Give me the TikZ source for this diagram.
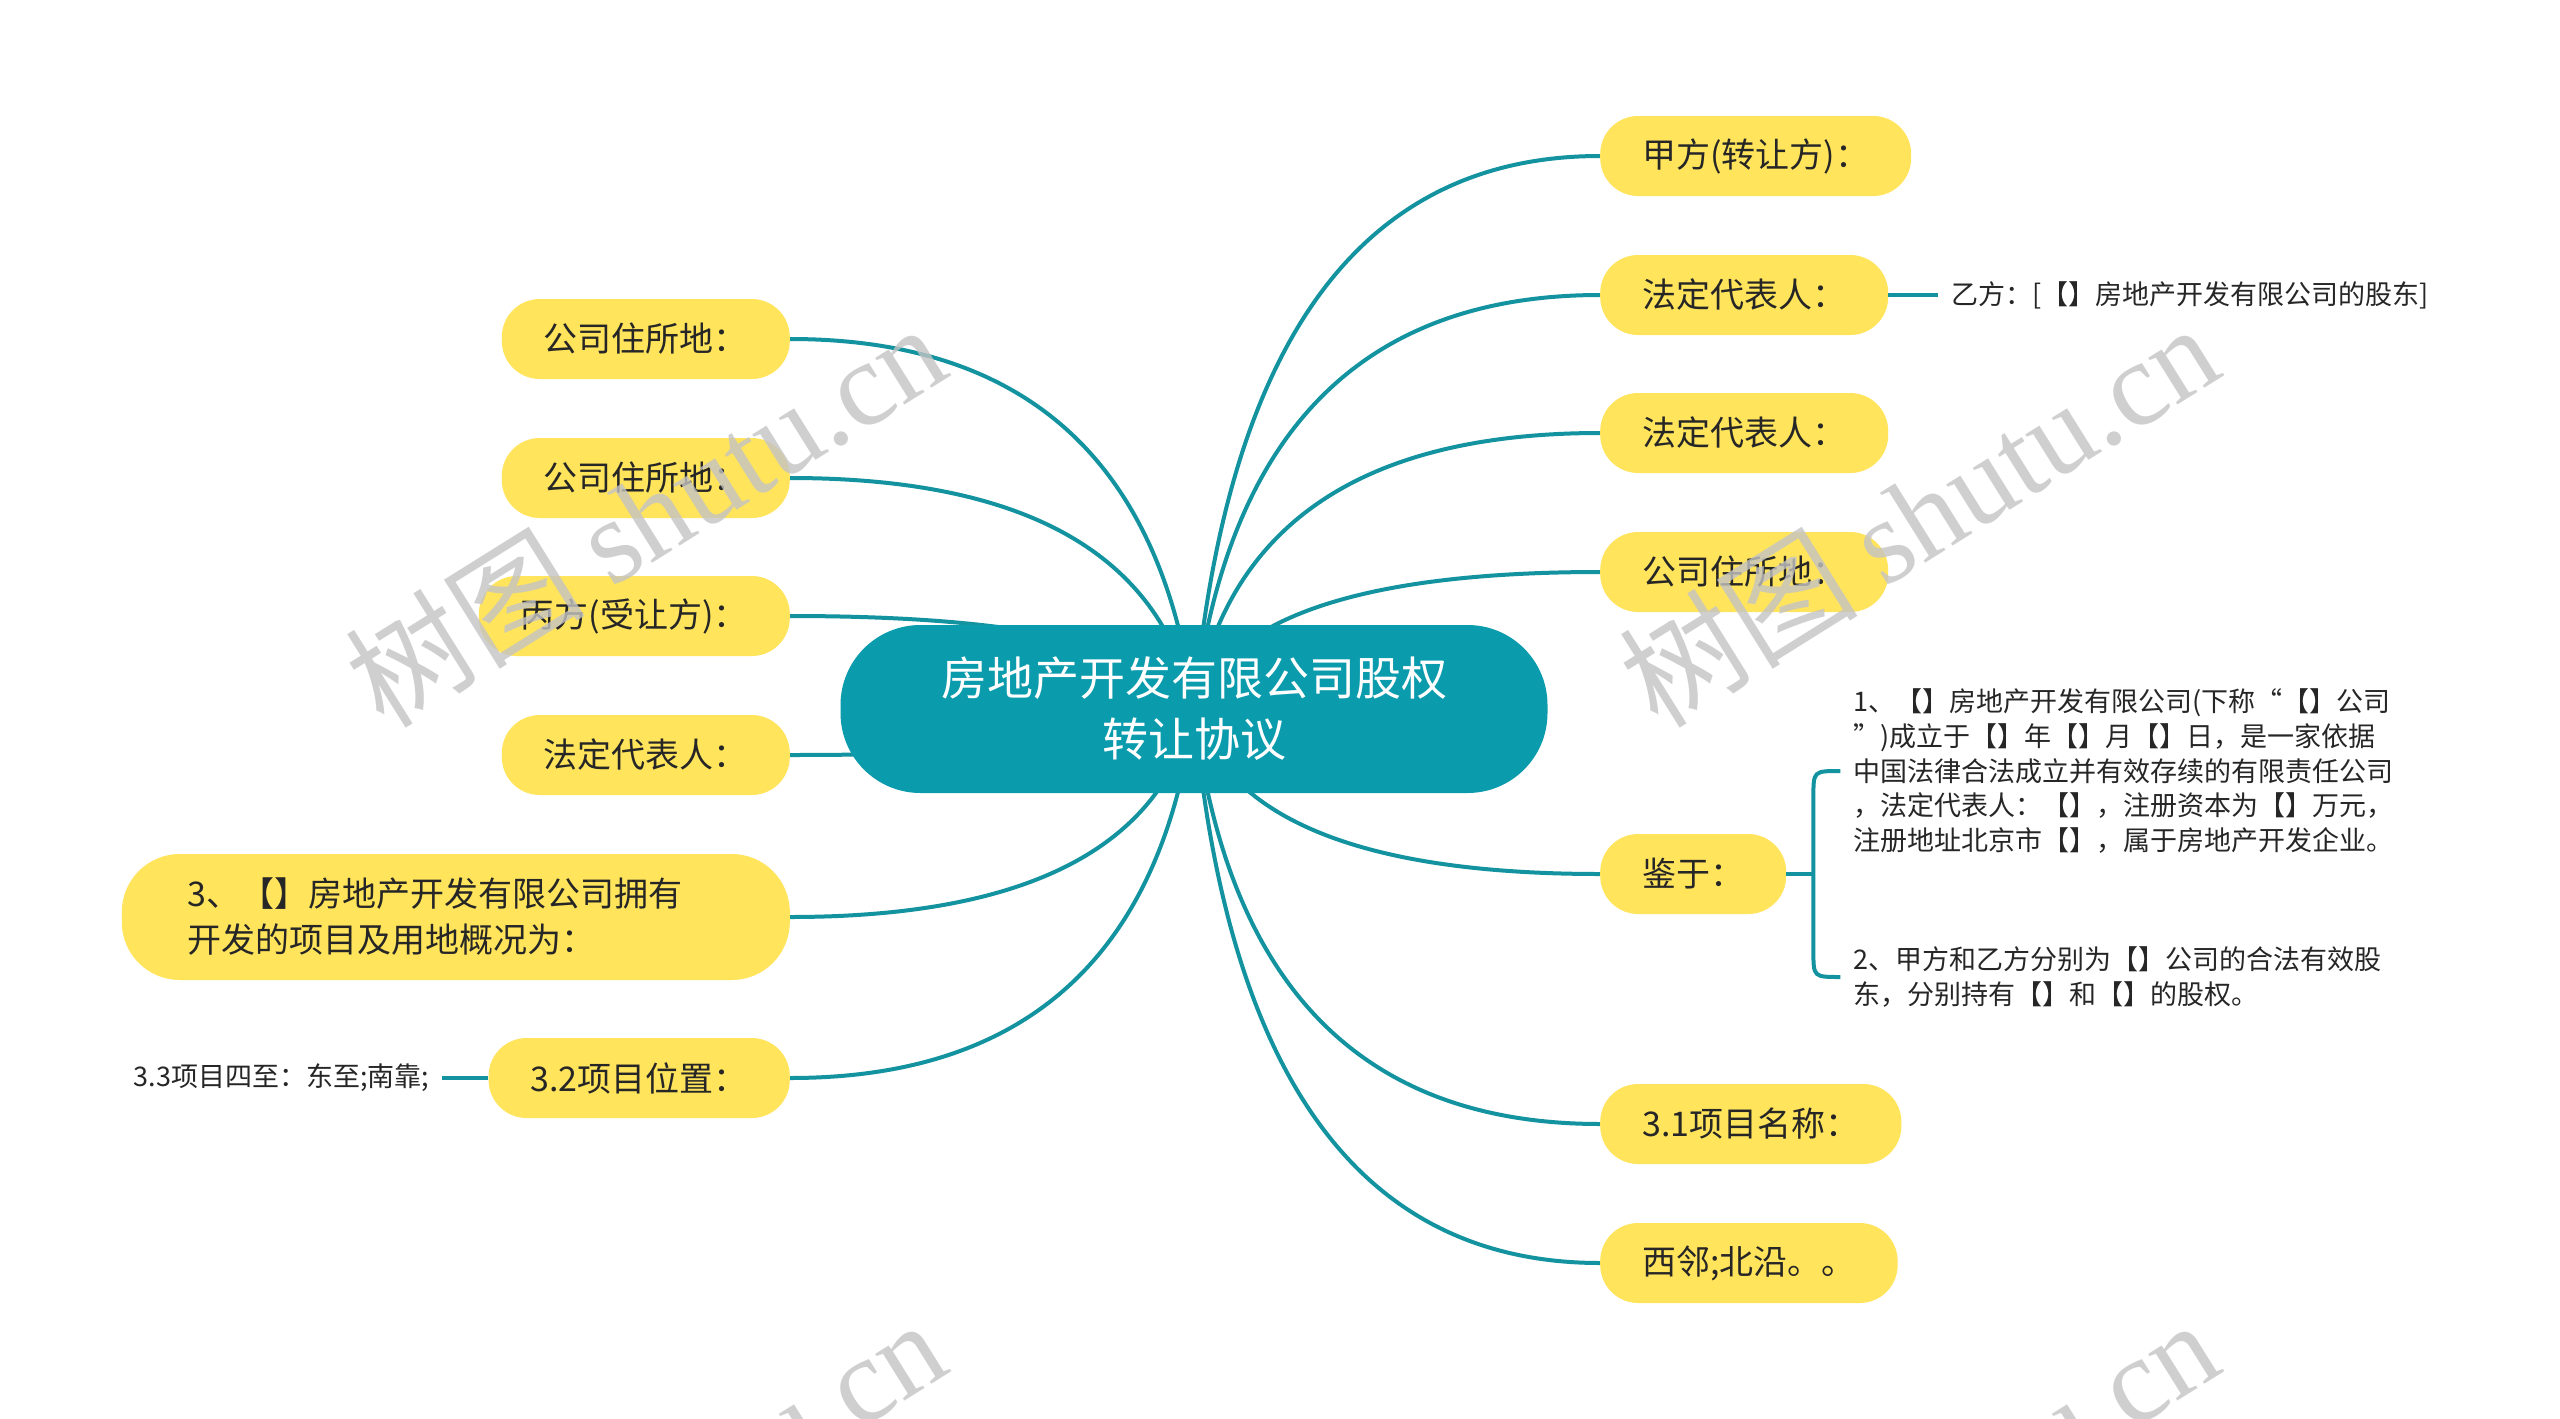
\documentclass[tikz,border=0pt]{standalone}
\usepackage{fontspec}
\setmainfont{Noto Sans CJK SC}
\newfontfamily\wmlatin{Liberation Serif}
\usetikzlibrary{positioning,calc,backgrounds}
\definecolor{hubFill}{HTML}{0A9BAC}
\definecolor{linkLine}{HTML}{13939F}
\definecolor{topicFill}{HTML}{FFE45C}
\definecolor{topicText}{HTML}{262626}
\definecolor{markGray}{HTML}{C4C4C4}

% curved link from the hub to one topic anchor
\newcommand{\branch}[1]{%
  \draw[link] let \p1=(hub.center), \p2=(#1) in
    (\p1) .. controls ({\x1+0.08*(\x2-\x1)},{\y1+0.667*(\y2-\y1)})
      and ({\x2-0.587*(\x2-\x1)},\y2) .. (\p2);}

\begin{document}
\begin{tikzpicture}[
  x=1pt, y=-1pt,
  font=\fontsize{34}{40}\selectfont,
  hub/.style={fill=hubFill, text=white, rounded corners=80pt, minimum width=707pt,
    minimum height=168pt, align=center, font=\fontsize{46}{61}\selectfont},
  topic/.style={fill=topicFill, text=topicText, rounded corners=38pt,
    minimum height=80pt, inner xsep=42pt, inner ysep=0pt},
  note/.style={text=topicText, font=\fontsize{27}{34.6}\selectfont, inner xsep=13pt, align=left},
  link/.style={draw=linkLine, line width=4pt},
  wmark/.style={text=markGray, text opacity=0.8, rotate=32, font=\fontsize{120}{120}\selectfont},
]

\useasboundingbox (0,0) rectangle (2560,1419);

% Central topic
\node[hub] (hub) at (1194,709) {房地产开发有限公司股权\\转让协议};

% Right branches
\node[topic, anchor=west] (jia) at (1600,156) {甲方(转让方)：};
\node[topic, anchor=west] (fd1) at (1600,295) {法定代表人：};
\node[topic, anchor=west] (fd2) at (1600,433) {法定代表人：};
\node[topic, anchor=west] (zs3) at (1600,572) {公司住所地：};
\node[topic, anchor=west] (jy) at (1600,874) {鉴于：};
\node[topic, anchor=west] (mc) at (1600,1124) {3.1项目名称：};
\node[topic, anchor=west] (xl) at (1600,1263) {西邻;北沿。。};

% Left branches
\node[topic, anchor=east] (zs1) at (790,339) {公司住所地：};
\node[topic, anchor=east] (zs2) at (790,478) {公司住所地：};
\node[topic, anchor=east] (bing) at (790,616) {丙方(受让方)：};
\node[topic, anchor=east] (fd3) at (790,755) {法定代表人：};
\node[topic, anchor=east, rounded corners=58pt, minimum height=126pt, text width=536pt,
      inner xsep=66pt, align=left, font=\fontsize{34}{46}\selectfont] (gk) at (790,917)
  {3、【】房地产开发有限公司拥有\\开发的项目及用地概况为：};
\node[topic, anchor=east] (wz) at (790,1078) {3.2项目位置：};

% Sub-topics
\node[note, right=50pt of fd1] (yi) {乙方：[【】房地产开发有限公司的股东]};
\draw[link] (fd1) -- (yi);
\node[note, left=46pt of wz] (sz) {3.3项目四至：东至;南靠;};
\draw[link] (wz) -- (sz);

\coordinate[right=27pt of jy] (bx);
\node[note, anchor=west] (t1) at ($(jy.east)+(54,-103)$) {%
  1、【】房地产开发有限公司(下称“【】公司\\
  ”)成立于【】年【】月【】日，是一家依据\\
  中国法律合法成立并有效存续的有限责任公司\\
  ，法定代表人：【】，注册资本为【】万元，\\
  注册地址北京市【】，属于房地产开发企业。};
\node[note, anchor=west] (t2) at ($(jy.east)+(54,103)$) {%
  2、甲方和乙方分别为【】公司的合法有效股\\
  东，分别持有【】和【】的股权。};
\draw[link] (jy) -- (bx);
\draw[link] (t1.west) .. controls (bx |- t1.west) .. ($(bx |- t1.west)+(0,26)$)
  -- ($(bx |- t2.west)+(0,-26)$) .. controls (bx |- t2.west) .. (t2.west);

% Links from the hub
\begin{scope}[on background layer]
  \fill[white] (0,0) rectangle (2560,1419);
  \foreach \nd in {jia,fd1,fd2,zs3,jy,mc,xl}{\branch{\nd.west}}
  \foreach \nd in {zs1,zs2,bing,fd3,gk,wz}{\branch{\nd.east}}
\end{scope}

% Watermarks
\foreach \wx/\wy in {645/514, 1918/514, 645/1510, 1918/1510}
  {\node[wmark] (wm\wx-\wy) at (\wx,\wy) {树图 {\wmlatin shutu.cn}};}

\end{tikzpicture}
\end{document}
